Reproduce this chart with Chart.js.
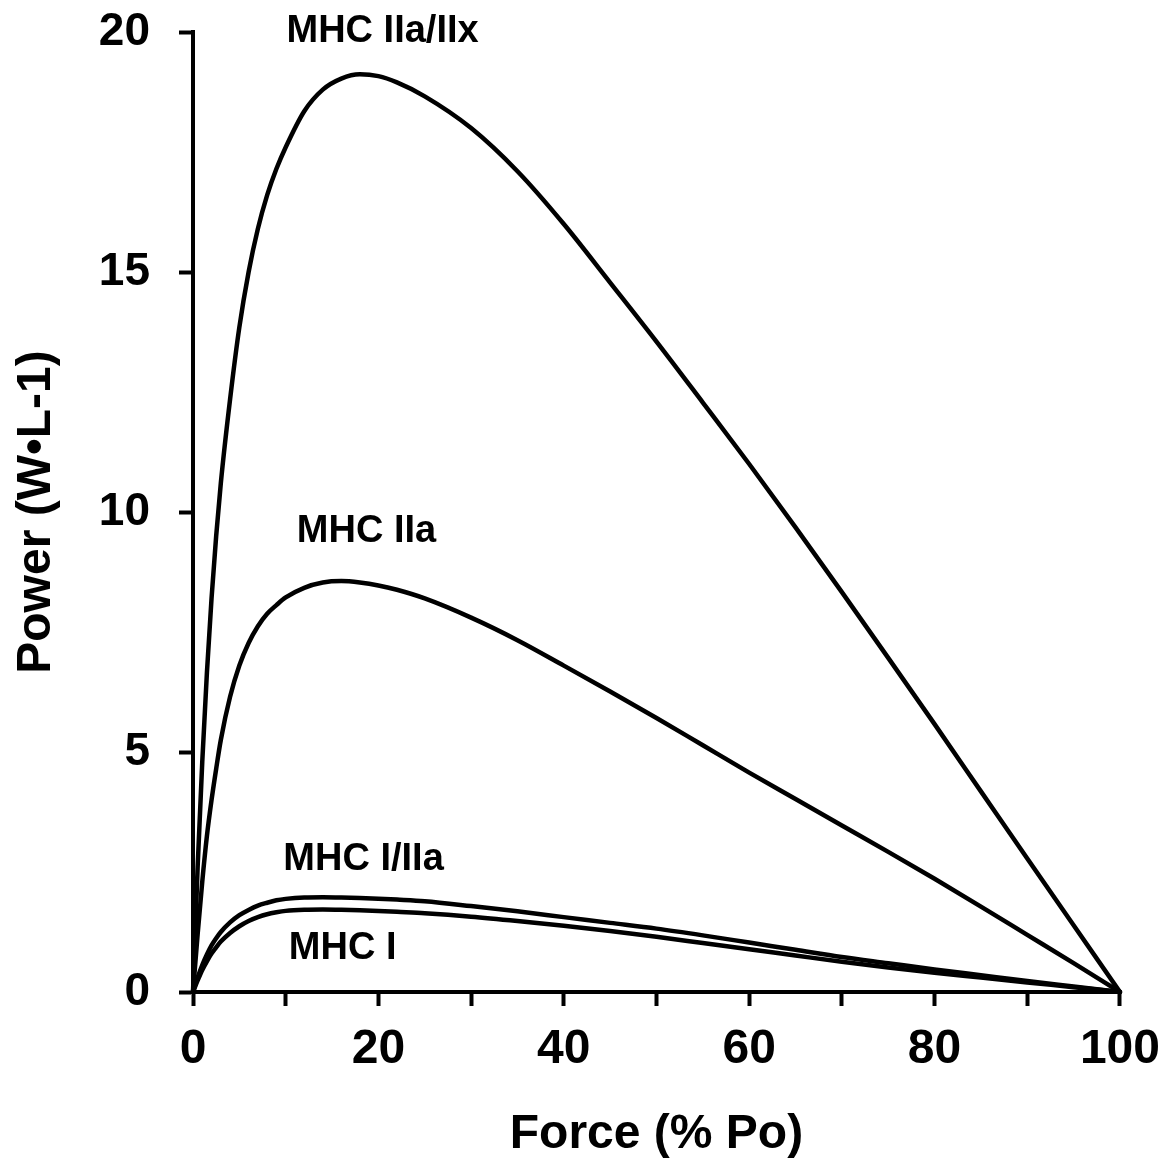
<!DOCTYPE html>
<html>
<head>
<meta charset="utf-8">
<script src="https://cdn.jsdelivr.net/npm/chart.js@4.4.1/dist/chart.umd.min.js"></script>
<style>
  html, body { margin: 0; padding: 0; background: #ffffff; }
  #wrap { width: 1175px; height: 1167px; }
</style>
</head>
<body>
<div id="wrap"><canvas id="c" width="1175" height="1167"></canvas></div>
<script>
// ---- data ----
const force = [0, 0.5, 1, 1.5, 2, 2.5, 3, 4, 5, 6, 7, 8, 9, 10, 12, 14, 16, 18, 20, 22, 25, 30, 35, 40, 45, 50, 55, 60, 65, 70, 75, 80, 85, 90, 95, 100];

const powerIIaIIx = [0, 2.6, 4.8, 6.65, 8.2, 9.5, 10.6, 12.35, 13.85, 15.0, 15.9, 16.6, 17.15, 17.6, 18.35, 18.8, 19.03, 19.12, 19.08, 18.95, 18.66, 18.0, 17.1, 16.0, 14.78, 13.55, 12.28, 11.0, 9.68, 8.33, 6.96, 5.58, 4.18, 2.78, 1.39, 0];
const powerIIa    = [0, 1.2, 2.3, 3.25, 4.0, 4.65, 5.25, 6.15, 6.8, 7.27, 7.62, 7.88, 8.06, 8.22, 8.42, 8.53, 8.56, 8.53, 8.47, 8.38, 8.2, 7.8, 7.33, 6.8, 6.26, 5.71, 5.14, 4.57, 4.02, 3.47, 2.92, 2.36, 1.78, 1.19, 0.6, 0];
const powerIIIa   = [0, 0.3, 0.56, 0.78, 0.97, 1.12, 1.25, 1.45, 1.6, 1.71, 1.8, 1.86, 1.91, 1.94, 1.97, 1.975, 1.97, 1.96, 1.945, 1.925, 1.89, 1.79, 1.68, 1.56, 1.44, 1.32, 1.18, 1.03, 0.88, 0.73, 0.6, 0.47, 0.35, 0.23, 0.115, 0];
const powerI      = [0, 0.24, 0.46, 0.64, 0.8, 0.93, 1.05, 1.23, 1.37, 1.48, 1.56, 1.62, 1.66, 1.69, 1.715, 1.72, 1.715, 1.705, 1.69, 1.67, 1.64, 1.57, 1.48, 1.38, 1.27, 1.15, 1.02, 0.89, 0.76, 0.63, 0.51, 0.4, 0.3, 0.2, 0.1, 0];

const seriesNames = ['MHC IIa/IIx', 'MHC IIa', 'MHC I/IIa', 'MHC I'];
// label anchors in data units [force, power]
const labelAnchors = [[20.45, 20.0], [18.72, 9.6], [18.4, 2.77], [16.14, 0.9]];

const xTickStep = 10;
const xLabelStep = 20;
const yTickStep = 5;

// ---- chart ----
const toPoints = arr => force.map((f, i) => ({ x: f, y: arr[i] }));
const allSeries = [powerIIaIIx, powerIIa, powerIIIa, powerI];

const FONT = "'Liberation Sans', Arial, Helvetica, sans-serif";

const seriesLabelPlugin = {
  id: 'seriesLabels',
  afterDatasetsDraw(chart) {
    const { ctx, scales } = chart;
    ctx.save();
    ctx.fillStyle = '#000';
    ctx.font = 'bold 38px ' + FONT;
    ctx.textAlign = 'center';
    ctx.textBaseline = 'middle';
    seriesNames.forEach((name, i) => {
      const px = scales.x.getPixelForValue(labelAnchors[i][0]);
      const py = scales.y.getPixelForValue(labelAnchors[i][1]);
      ctx.fillText(name, px, py);
    });
    ctx.restore();
  }
};

new Chart(document.getElementById('c'), {
  type: 'line',
  data: {
    datasets: allSeries.map((arr, i) => ({
      label: seriesNames[i],
      data: toPoints(arr),
      borderColor: '#000',
      borderWidth: 4.5,
      borderJoinStyle: 'round',
      borderCapStyle: 'round',
      pointRadius: 0,
      fill: false,
      cubicInterpolationMode: 'monotone',
      clip: false
    }))
  },
  options: {
    responsive: false,
    animation: false,
    devicePixelRatio: 1,
    layout: { padding: { top: 32, right: 52, left: 0, bottom: 0 } },
    plugins: { legend: { display: false }, tooltip: { enabled: false } },
    scales: {
      x: {
        type: 'linear',
        min: 0, max: 100,
        afterFit(scale) { scale.height = 175; },
        border: { display: true, color: '#000', width: 4 },
        grid: { display: true, drawOnChartArea: false, drawTicks: true, tickLength: 14, tickWidth: 4, tickColor: '#000' },
        ticks: {
          stepSize: xTickStep,
          color: '#000',
          padding: 15,
          maxRotation: 0,
          autoSkip: false,
          font: { family: FONT, size: 48, weight: 'bold' },
          callback: v => (v % xLabelStep === 0 ? String(v) : '')
        },
        title: {
          display: true,
          text: 'Force (% Po)',
          color: '#000',
          font: { family: FONT, size: 48, weight: 'bold', lineHeight: 1.2 },
          padding: { top: 0, bottom: 3 }
        }
      },
      y: {
        type: 'linear',
        min: 0, max: 20,
        afterFit(scale) { scale.width = 193; },
        border: { display: true, color: '#000', width: 4 },
        grid: { display: true, drawOnChartArea: false, drawTicks: true, tickLength: 14, tickWidth: 4, tickColor: '#000' },
        ticks: {
          stepSize: yTickStep,
          color: '#000',
          padding: 29,
          font: { family: FONT, size: 46, weight: 'bold', lineHeight: 0.1 }
        },
        title: {
          display: true,
          text: 'Power (W•L-1)',
          color: '#000',
          font: { family: FONT, size: 48, weight: 'bold', lineHeight: 1.2 },
          padding: { top: 8, bottom: 0 }
        }
      }
    }
  },
  plugins: [seriesLabelPlugin]
});
</script>
</body>
</html>
